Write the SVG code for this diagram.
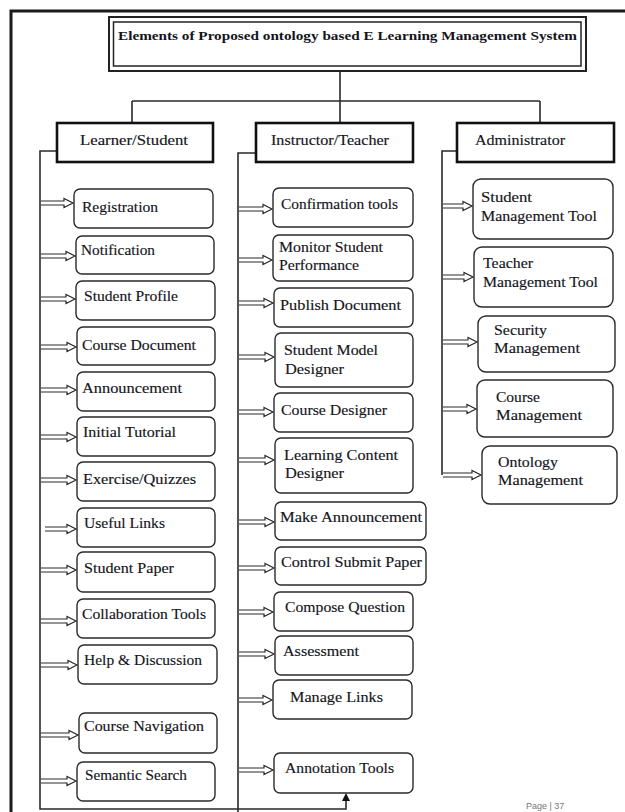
<svg xmlns="http://www.w3.org/2000/svg" width="625" height="812" viewBox="0 0 625 812">
<style>
  .frame{fill:none;stroke:#1a1a1a;stroke-width:3}
  .tb{fill:#fff;stroke:#222;stroke-width:2}
  .tbi{fill:none;stroke:#222;stroke-width:1.5}
  .hd{fill:#fff;stroke:#111;stroke-width:2.6}
  .bx{fill:#fff;stroke:#2a2a2a;stroke-width:1.4}
  .ln{fill:none;stroke:#2a2a2a;stroke-width:1.6}
  .ha{fill:#fff;stroke:#2a2a2a;stroke-width:1.2;stroke-linejoin:miter}
  text{font-family:"Liberation Serif","Times New Roman",serif;font-size:15px;fill:#141420;stroke:#141420;stroke-width:0.15}
  .ti{font-weight:bold;font-size:13.5px;stroke:none}
  .pg{font-family:"Liberation Sans",Arial,sans-serif;font-size:9px;fill:#777;stroke:none}
</style>
<rect width="625" height="812" fill="#fff"/>
<path class="frame" d="M11 812 V11 H625"/>

<g id="title">
  <rect class="tb" x="109" y="17" width="477" height="54"/>
  <rect class="tbi" x="113.5" y="22" width="467.5" height="44"/>
  <text class="ti" x="118" y="40" textLength="459" lengthAdjust="spacingAndGlyphs">Elements of Proposed ontology based E Learning Management System</text>
</g>

<g id="connectors">
  <path class="ln" d="M340 71 V101 M132 101 H540 M132 101 V123 M340 101 V123 M540 101 V123"/>
  <path class="ln" d="M57 151 H40 V809 H346 V800"/>
  <polygon points="346,793 342,801 350,801" fill="#111"/>
  <path class="ln" d="M256 153 H238 V812"/>
  <path class="ln" d="M457 151 H442 V475"/>
  <path class="ha" d="M41 201 H64 V198.5 L73 203 L64 207.5 V205 H41"/>
  <path class="ha" d="M41 254 H66 V251.5 L75 256 L66 260.5 V258 H41"/>
  <path class="ha" d="M41 297 H66 V294.5 L75 299 L66 303.5 V301 H41"/>
  <path class="ha" d="M41 345 H67 V342.5 L76 347 L67 351.5 V349 H41"/>
  <path class="ha" d="M41 388 H67 V385.5 L76 390 L67 394.5 V392 H41"/>
  <path class="ha" d="M41 435 H67 V432.5 L76 437 L67 441.5 V439 H41"/>
  <path class="ha" d="M41 478 H67 V475.5 L76 480 L67 484.5 V482 H41"/>
  <path class="ha" d="M45 527 H67 V524.5 L76 529 L67 533.5 V531 H45"/>
  <path class="ha" d="M41 568 H67 V565.5 L76 570 L67 574.5 V572 H41"/>
  <path class="ha" d="M41 619 H67 V616.5 L76 621 L67 625.5 V623 H41"/>
  <path class="ha" d="M41 663 H68 V660.5 L77 665 L68 669.5 V667 H41"/>
  <path class="ha" d="M41 733 H69 V730.5 L78 735 L69 739.5 V737 H41"/>
  <path class="ha" d="M41 779 H67 V776.5 L76 781 L67 785.5 V783 H41"/>
  <path class="ha" d="M239 207 H263 V204.5 L272 209 L263 213.5 V211 H239"/>
  <path class="ha" d="M239 258 H263 V255.5 L272 260 L263 264.5 V262 H239"/>
  <path class="ha" d="M239 301 H264 V298.5 L273 303 L264 307.5 V305 H239"/>
  <path class="ha" d="M239 355 H265 V352.5 L274 357 L265 361.5 V359 H239"/>
  <path class="ha" d="M239 410 H264 V407.5 L273 412 L264 416.5 V414 H239"/>
  <path class="ha" d="M239 458 H265 V455.5 L274 460 L265 464.5 V462 H239"/>
  <path class="ha" d="M239 520 H265 V517.5 L274 522 L265 526.5 V524 H239"/>
  <path class="ha" d="M239 566 H265 V563.5 L274 568 L265 572.5 V570 H239"/>
  <path class="ha" d="M239 610 H264 V607.5 L273 612 L264 616.5 V614 H239"/>
  <path class="ha" d="M239 652 H265 V649.5 L274 654 L265 658.5 V656 H239"/>
  <path class="ha" d="M239 698 H263 V695.5 L272 700 L263 704.5 V702 H239"/>
  <path class="ha" d="M239 768 H264 V765.5 L273 770 L264 774.5 V772 H239"/>
  <path class="ha" d="M443 204 H463 V201.5 L472 206 L463 210.5 V208 H443"/>
  <path class="ha" d="M443 275 H464 V272.5 L473 277 L464 281.5 V279 H443"/>
  <path class="ha" d="M443 340 H468 V337.5 L477 342 L468 346.5 V344 H443"/>
  <path class="ha" d="M443 407 H467 V404.5 L476 409 L467 413.5 V411 H443"/>
  <path class="ha" d="M443 473 H472 V470.5 L481 475 L472 479.5 V477 H443"/>
</g>

<g id="learner">
  <rect class="hd" x="57" y="123" width="156" height="39"/>
  <text x="80" y="145" textLength="108" lengthAdjust="spacingAndGlyphs">Learner/Student</text>
</g>
<g id="instructor">
  <rect class="hd" x="256" y="123" width="157" height="39"/>
  <text x="271" y="145" textLength="118" lengthAdjust="spacingAndGlyphs">Instructor/Teacher</text>
</g>
<g id="administrator">
  <rect class="hd" x="457" y="123" width="157" height="39"/>
  <text x="475" y="145" textLength="90" lengthAdjust="spacingAndGlyphs">Administrator</text>
</g>

<g id="registration"><rect class="bx" x="74" y="189" width="139" height="39" rx="6"/><text x="82" y="212" textLength="76" lengthAdjust="spacingAndGlyphs">Registration</text></g>
<g id="notification"><rect class="bx" x="76" y="236" width="138" height="38" rx="6"/><text x="81" y="255" textLength="74" lengthAdjust="spacingAndGlyphs">Notification</text></g>
<g id="student-profile"><rect class="bx" x="76" y="281" width="139" height="39" rx="6"/><text x="84" y="301" textLength="94" lengthAdjust="spacingAndGlyphs">Student Profile</text></g>
<g id="course-document"><rect class="bx" x="77" y="327" width="138" height="38" rx="6"/><text x="82" y="350" textLength="114" lengthAdjust="spacingAndGlyphs">Course Document</text></g>
<g id="announcement"><rect class="bx" x="77" y="372" width="138" height="39" rx="6"/><text x="82" y="393" textLength="100" lengthAdjust="spacingAndGlyphs">Announcement</text></g>
<g id="initial-tutorial"><rect class="bx" x="77" y="417" width="138" height="39" rx="6"/><text x="83" y="437" textLength="93" lengthAdjust="spacingAndGlyphs">Initial Tutorial</text></g>
<g id="exercise-quizzes"><rect class="bx" x="77" y="462" width="138" height="39" rx="6"/><text x="83" y="484" textLength="113" lengthAdjust="spacingAndGlyphs">Exercise/Quizzes</text></g>
<g id="useful-links"><rect class="bx" x="77" y="508" width="138" height="39" rx="6"/><text x="84" y="528" textLength="81" lengthAdjust="spacingAndGlyphs">Useful Links</text></g>
<g id="student-paper"><rect class="bx" x="77" y="552" width="138" height="40" rx="6"/><text x="84" y="573" textLength="90" lengthAdjust="spacingAndGlyphs">Student Paper</text></g>
<g id="collaboration-tools"><rect class="bx" x="77" y="599" width="138" height="39" rx="6"/><text x="82" y="619" textLength="124" lengthAdjust="spacingAndGlyphs">Collaboration Tools</text></g>
<g id="help-discussion"><rect class="bx" x="78" y="645" width="139" height="39" rx="6"/><text x="84" y="665" textLength="118" lengthAdjust="spacingAndGlyphs">Help &amp; Discussion</text></g>
<g id="course-navigation"><rect class="bx" x="79" y="713" width="138" height="40" rx="6"/><text x="84" y="731" textLength="120" lengthAdjust="spacingAndGlyphs">Course Navigation</text></g>
<g id="semantic-search"><rect class="bx" x="77" y="762" width="138" height="39" rx="6"/><text x="85" y="780" textLength="102" lengthAdjust="spacingAndGlyphs">Semantic Search</text></g>

<g id="confirmation-tools"><rect class="bx" x="273" y="188" width="140" height="39" rx="6"/><text x="281" y="209" textLength="117" lengthAdjust="spacingAndGlyphs">Confirmation tools</text></g>
<g id="monitor-student-performance"><rect class="bx" x="273" y="235" width="140" height="46" rx="6"/><text x="279" y="252" textLength="104" lengthAdjust="spacingAndGlyphs">Monitor Student</text><text x="279" y="270" textLength="80" lengthAdjust="spacingAndGlyphs">Performance</text></g>
<g id="publish-document"><rect class="bx" x="274" y="288" width="139" height="39" rx="6"/><text x="280" y="310" textLength="121" lengthAdjust="spacingAndGlyphs">Publish Document</text></g>
<g id="student-model-designer"><rect class="bx" x="275" y="333" width="138" height="54" rx="6"/><text x="284" y="355" textLength="94" lengthAdjust="spacingAndGlyphs">Student Model</text><text x="285" y="374" textLength="59" lengthAdjust="spacingAndGlyphs">Designer</text></g>
<g id="course-designer"><rect class="bx" x="274" y="393" width="139" height="39" rx="6"/><text x="281" y="415" textLength="106" lengthAdjust="spacingAndGlyphs">Course Designer</text></g>
<g id="learning-content-designer"><rect class="bx" x="275" y="438" width="138" height="55" rx="6"/><text x="284" y="460" textLength="114" lengthAdjust="spacingAndGlyphs">Learning Content</text><text x="285" y="478" textLength="59" lengthAdjust="spacingAndGlyphs">Designer</text></g>
<g id="make-announcement"><rect class="bx" x="275" y="502" width="151" height="38" rx="6"/><text x="280" y="522" textLength="142" lengthAdjust="spacingAndGlyphs">Make Announcement</text></g>
<g id="control-submit-paper"><rect class="bx" x="275" y="547" width="151" height="38" rx="6"/><text x="281" y="567" textLength="141" lengthAdjust="spacingAndGlyphs">Control Submit Paper</text></g>
<g id="compose-question"><rect class="bx" x="274" y="592" width="139" height="39" rx="6"/><text x="285" y="612" textLength="120" lengthAdjust="spacingAndGlyphs">Compose Question</text></g>
<g id="assessment"><rect class="bx" x="275" y="636" width="138" height="39" rx="6"/><text x="283" y="656" textLength="76" lengthAdjust="spacingAndGlyphs">Assessment</text></g>
<g id="manage-links"><rect class="bx" x="273" y="680" width="139" height="39" rx="6"/><text x="290" y="702" textLength="93" lengthAdjust="spacingAndGlyphs">Manage Links</text></g>
<g id="annotation-tools"><rect class="bx" x="274" y="753" width="139" height="40" rx="6"/><text x="285" y="773" textLength="109" lengthAdjust="spacingAndGlyphs">Annotation Tools</text></g>

<g id="student-management-tool"><rect class="bx" x="473" y="179" width="140" height="60" rx="8"/><text x="481" y="202" textLength="51" lengthAdjust="spacingAndGlyphs">Student</text><text x="481" y="221" textLength="116" lengthAdjust="spacingAndGlyphs">Management Tool</text></g>
<g id="teacher-management-tool"><rect class="bx" x="474" y="247" width="139" height="60" rx="8"/><text x="483" y="268" textLength="50" lengthAdjust="spacingAndGlyphs">Teacher</text><text x="483" y="287" textLength="115" lengthAdjust="spacingAndGlyphs">Management Tool</text></g>
<g id="security-management"><rect class="bx" x="478" y="316" width="137" height="56" rx="8"/><text x="494" y="335" textLength="53" lengthAdjust="spacingAndGlyphs">Security</text><text x="494" y="353" textLength="86" lengthAdjust="spacingAndGlyphs">Management</text></g>
<g id="course-management"><rect class="bx" x="477" y="380" width="136" height="57" rx="8"/><text x="496" y="402" textLength="44" lengthAdjust="spacingAndGlyphs">Course</text><text x="496" y="420" textLength="86" lengthAdjust="spacingAndGlyphs">Management</text></g>
<g id="ontology-management"><rect class="bx" x="482" y="446" width="135" height="58" rx="8"/><text x="498" y="467" textLength="60" lengthAdjust="spacingAndGlyphs">Ontology</text><text x="498" y="485" textLength="85" lengthAdjust="spacingAndGlyphs">Management</text></g>

<text class="pg" x="526" y="809">Page | 37</text>
</svg>
